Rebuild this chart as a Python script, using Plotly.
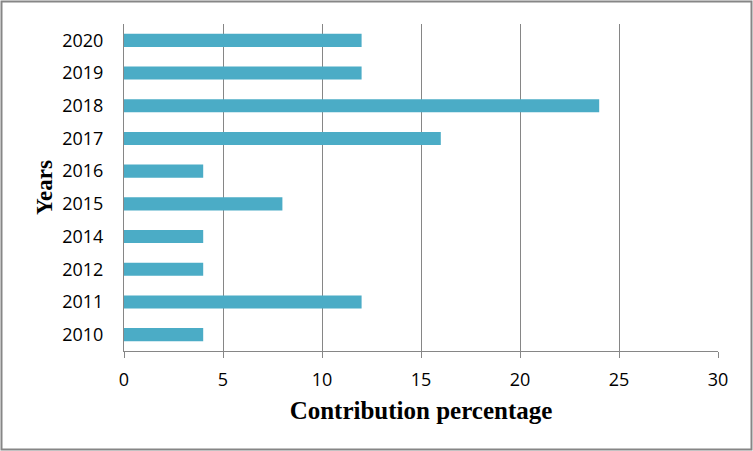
import plotly.graph_objects as go

years = ["2010", "2011", "2012", "2014", "2015", "2016", "2017", "2018", "2019", "2020"]
contribution = [4, 12, 4, 4, 8, 4, 16, 24, 12, 12]
x_ticks = [0, 5, 10, 15, 20, 25, 30]

W, H = 753, 451
L, R, T, B = 124, 35, 24, 100
pw, ph = W - L - R, H - T - B

fig = go.Figure(go.Bar(
    x=contribution, y=years, orientation="h",
    marker=dict(color="#4BACC6", line=dict(width=0)),
    width=0.4,
))

def px_x(p):
    return (p - L) / pw

def px_y(p):
    return (H - B - p) / ph

fig.update_layout(
    width=W, height=H,
    margin=dict(l=L, r=R, t=T, b=B),
    paper_bgcolor="white", plot_bgcolor="white",
    showlegend=False,
    xaxis=dict(
        range=[0, 30], tickvals=x_ticks, ticktext=[str(v) for v in x_ticks],
        showgrid=True, gridcolor="#868686", gridwidth=1,
        showline=True, linecolor="#868686", linewidth=1,
        ticks="outside", ticklen=6, tickcolor="#868686",
        zeroline=False, ticklabelstandoff=6,
        tickfont=dict(family="Open Sans", size=18, color="black"),
        title=dict(text="Contribution percentage",
                   font=dict(family="Liberation Serif", size=25, color="black", weight="bold"),
                   standoff=11),
    ),
    yaxis=dict(
        type="category", categoryorder="array", categoryarray=years,
        showline=True, linecolor="#868686", linewidth=1,
        showgrid=False, zeroline=False, ticks="",
        ticklabelstandoff=16,
        tickfont=dict(family="Open Sans", size=18, color="black"),
        title=dict(text="Years",
                   font=dict(family="Liberation Serif", size=23, color="black", weight="bold"),
                   standoff=3),
    ),
    shapes=[dict(
        type="rect", xref="paper", yref="paper",
        x0=px_x(1.5), x1=px_x(751.5), y0=px_y(449.5), y1=px_y(1.5),
        line=dict(color="#868686", width=2), fillcolor="rgba(0,0,0,0)", layer="below",
    )],
)

fig.write_html("out.html", config={"displayModeBar": False},
               post_script="document.body.style.margin='0';document.body.style.overflow='hidden';")
